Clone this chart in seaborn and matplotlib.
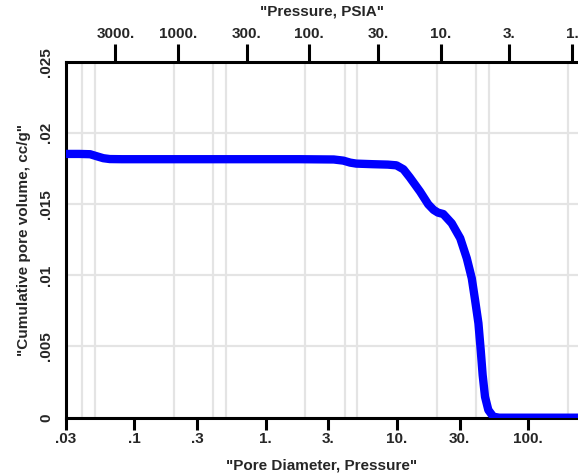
import matplotlib
matplotlib.use("Agg")
import matplotlib.pyplot as plt
import matplotlib.ticker as mticker
import seaborn as sns
import pandas as pd
import numpy as np


# ============================================================
# DATA
# ============================================================
pore_diameter = [0.03, 0.038, 0.046, 0.052, 0.058, 0.065, 0.08, 0.2, 1.0, 1.8,
                 3.3, 3.9, 4.4, 4.9, 6.5, 8.5, 9.9, 11.2, 12.5, 15.0,
                 17.3, 19.0, 20.5, 22.5, 26.1, 30.3, 34.0, 37.1, 39.3, 41.7,
                 43.4, 44.9, 46.8, 49.6, 54.1, 60.0, 80.0, 150.0, 239.0]
cum_volume = [0.01852, 0.01852, 0.01850, 0.01835, 0.01822, 0.01816, 0.01815, 0.01815, 0.01815, 0.01815,
              0.01813, 0.01805, 0.01791, 0.01784, 0.01780, 0.01777, 0.01772, 0.01744, 0.01688, 0.01587,
              0.01498, 0.01459, 0.01440, 0.01430, 0.01365, 0.01260, 0.01119, 0.00979, 0.00827, 0.00663,
              0.00475, 0.00300, 0.00147, 0.00054, 0.00007, 0.0, 0.0, 0.0, 0.0]

x_ticks = [0.03, 0.1, 0.3, 1, 3, 10, 30, 100]
x_tick_labels = [".03", ".1", ".3", "1.", "3.", "10.", "30.", "100."]
y_ticks = [0, 0.005, 0.01, 0.015, 0.02, 0.025]
y_tick_labels = ["0", ".005", ".01", ".015", ".02", ".025"]

# top axis: pressure (Washburn, d ~ 215 / P)
pressure_ticks = [3000, 1000, 300, 100, 30, 10, 3, 1]
pressure_labels = ["3000.", "1000.", "300.", "100.", "30.", "10.", "3.", "1."]
washburn_const = 215.0

x_range = (0.03, 239.0)
y_range = (0, 0.025)


# ============================================================
# PLOT
# ============================================================
sns.set_style("white")
plt.rcParams['font.family'] = ['Liberation Sans', 'DejaVu Sans']
plt.rcParams['font.weight'] = 'bold'

df = pd.DataFrame({"diameter": pore_diameter, "volume": cum_volume})

fig = plt.figure(figsize=(5.78, 4.76), dpi=100)
ax = fig.add_axes([0.1137, 0.1225, 0.8863, 0.748])

ax.set_xscale("log")
ax.set_xlim(*x_range)
ax.set_ylim(*y_range)

# grid at 1..5 x 10^k
ax.xaxis.set_minor_locator(mticker.LogLocator(base=10, subs=[1, 2, 3, 4, 5], numticks=20))
ax.xaxis.set_minor_formatter(mticker.NullFormatter())
ax.grid(False)
ax.grid(True, which="minor", axis="x", color="#e4e4e4", linewidth=1.6)
ax.grid(True, which="major", axis="y", color="#e4e4e4", linewidth=1.6)
ax.set_axisbelow(True)

sns.lineplot(data=df, x="diameter", y="volume", color="#0000ff",
             linewidth=6, solid_capstyle="round", ax=ax, zorder=3)

ax.set_xticks(x_ticks)
ax.set_xticklabels(x_tick_labels)
ax.set_yticks(y_ticks)
ax.set_yticklabels(y_tick_labels, rotation=90, va="center")

ax.tick_params(axis="x", which="major", direction="out", length=8.5, width=2.2,
               labelsize=11, pad=2, color="black")
ax.tick_params(axis="x", which="minor", length=0)
ax.tick_params(axis="y", direction="out", length=6, width=2.2,
               labelsize=11, pad=3, color="black")

for side in ["left", "bottom"]:
    ax.spines[side].set_linewidth(2.2)
    ax.spines[side].set_color("black")
ax.spines["right"].set_visible(False)
ax.spines["top"].set_visible(False)

ax.set_xlabel('"Pore Diameter, Pressure"', fontsize=11, fontweight="bold", labelpad=9)
ax.set_ylabel('"Cumulative pore volume, cc/g"', fontsize=11, fontweight="bold", labelpad=6)

# top pressure axis
ax2 = ax.twiny()
ax2.set_xscale("log")
ax2.set_xlim(ax.get_xlim())
ax2.set_xticks([washburn_const / p for p in pressure_ticks])
ax2.set_xticklabels(pressure_labels)
ax2.xaxis.set_minor_locator(mticker.NullLocator())
ax2.tick_params(axis="x", direction="out", length=13, width=2.2,
                labelsize=11, pad=2, color="black")
for side in ["left", "bottom", "right"]:
    ax2.spines[side].set_visible(False)
ax2.spines["top"].set_linewidth(2.2)
ax2.spines["top"].set_color("black")
ax2.set_xlabel('"Pressure, PSIA"', fontsize=11, fontweight="bold", labelpad=8)

plt.savefig("out.png", dpi=100)
plt.close()
